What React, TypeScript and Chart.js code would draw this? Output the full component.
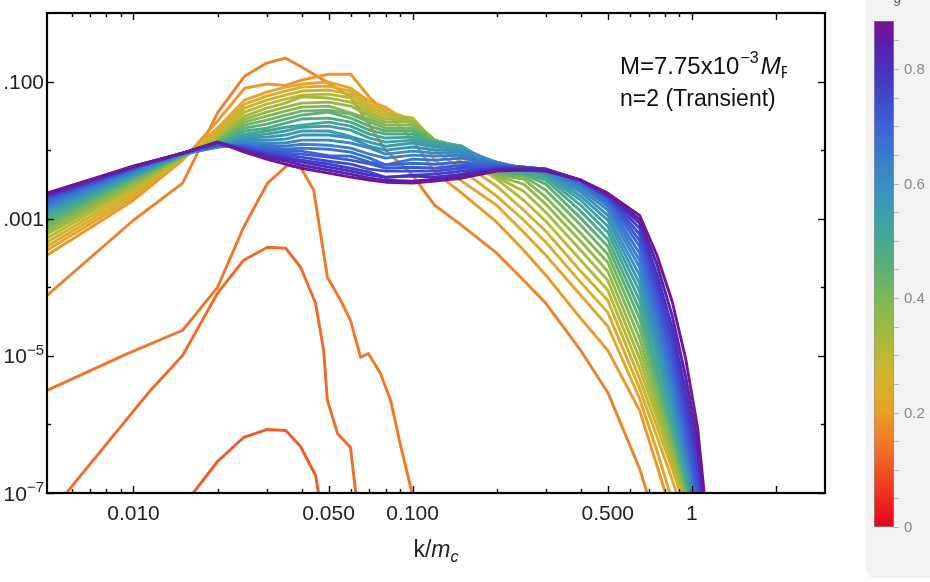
import React, { useEffect, useRef } from "react";
import { Chart, registerables } from "chart.js";

Chart.register(...registerables);

// ---------------- data ----------------
const kGrid = [0.0049, 0.01, 0.015, 0.02, 0.025, 0.03, 0.035, 0.04, 0.05, 0.06, 0.07, 0.08, 0.1, 0.12, 0.15, 0.2, 0.25, 0.3, 0.4, 0.5, 0.65, 0.75, 0.85, 0.95, 1.05, 1.15];

// early (transient) spectra
const early1N = 0.11;
const early1K = [0.0156, 0.02, 0.0248, 0.0302, 0.0351, 0.0397, 0.0449, 0.0468];
const early1Y = [7.8e-8, 2.88e-7, 6.45e-7, 8.45e-7, 8.17e-7, 4.77e-7, 1.8e-7, 6.6e-8];

const early2N = 0.13;
const early2K = [0.00547, 0.0115, 0.015, 0.02, 0.0248, 0.0302, 0.0351, 0.0397, 0.0449, 0.048, 0.0495, 0.0538, 0.0599, 0.0624, 0.0635];
const early2Y = [7.8e-8, 3.13e-6, 1.01e-5, 8.2e-5, 2.48e-4, 3.83e-4, 3.71e-4, 1.96e-4, 5.84e-5, 1.2e-5, 2.24e-6, 7.39e-7, 4.61e-7, 1.09e-7, 6.6e-8];

const early3N = 0.145;
const early3K = [0.0049, 0.00952, 0.015, 0.02, 0.0248, 0.0302, 0.0356, 0.0397, 0.0442, 0.0495, 0.0552, 0.0599, 0.0651, 0.0694, 0.0767, 0.0834, 0.0902, 0.0984, 0.1];
const early3Y = [3.13e-6, 1.08e-5, 2.36e-5, 9.95e-5, 7.5e-4, 3.3e-3, 6.03e-3, 5.64e-3, 2.61e-3, 1.4e-4, 6.46e-5, 3.3e-5, 9.5e-6, 1.08e-5, 5.55e-6, 2.24e-6, 5.28e-7, 1.2e-7, 7.8e-8];

// later spectra on kGrid (n value of each in bundleN)
const bundleN = [0.16, 0.19, 0.215, 0.24, 0.27, 0.3, 0.33, 0.36, 0.39, 0.42, 0.45, 0.48, 0.51, 0.54, 0.565, 0.59, 0.615, 0.64, 0.665, 0.69, 0.715, 0.74, 0.77, 0.8, 0.835, 0.875];

const s00 = [7.6e-5, 9.5e-4, 3.3e-3, 0.035, 0.12, 0.186, 0.22, 0.163, 0.095, 0.059, 0.0232, 0.01, 4.3e-3, 1.57e-3, 8.0e-4, 3.14e-4, 1.26e-4, 5.84e-5, 1.2e-5, 2.93e-6, 2.28e-7, 3.35e-8];
const s01 = [2.93e-4, 1.86e-3, 7.14e-3, 0.0265, 0.08, 0.092, 0.088, 0.105, 0.128, 0.128, 0.059, 0.0359, 0.014, 4.78e-3, 2.36e-3, 8.9e-4, 3.47e-4, 1.5e-4, 3.52e-5, 1.2e-5, 1.6e-6, 2.52e-7, 4.7e-8];
const s02 = [3.47e-4, 2.06e-3, 7.39e-3, 0.0209, 0.0537, 0.0703, 0.0831, 0.092, 0.0984, 0.08, 0.0519, 0.0424, 0.0232, 7.14e-3, 3.53e-3, 1.57e-3, 6.35e-4, 2.93e-4, 7.64e-5, 2.7e-5, 2.39e-6, 4.17e-7, 7.8e-8];
const s03 = [3.96e-4, 2.28e-3, 7.64e-3, 0.019, 0.0469, 0.0614, 0.0727, 0.0831, 0.086, 0.0727, 0.0469, 0.0384, 0.0274, 0.01, 5.11e-3, 2.13e-3, 9.51e-4, 4.53e-4, 1.18e-4, 4.31e-5, 3.35e-6, 6.67e-7, 1.57e-7, 4.1e-8];
const s04 = [4.53e-4, 2.52e-3, 7.64e-3, 0.0171, 0.041, 0.0537, 0.0635, 0.0727, 0.0752, 0.0657, 0.0424, 0.0347, 0.0293, 0.0118, 6.68e-3, 2.98e-3, 1.33e-3, 6.57e-4, 1.71e-4, 6.46e-5, 4.69e-6, 9.3e-7, 2.28e-7, 6.1e-8];
const s05 = [5.19e-4, 2.79e-3, 7.9e-3, 0.016, 0.0359, 0.0469, 0.0556, 0.0635, 0.0657, 0.0575, 0.0384, 0.0314, 0.0293, 0.0131, 7.9e-3, 3.78e-3, 1.86e-3, 9.2e-4, 2.48e-4, 9.04e-5, 6.56e-6, 1.26e-6, 2.88e-7, 7.3e-8];
const s06 = [5.93e-4, 2.98e-3, 7.9e-3, 0.015, 0.0314, 0.041, 0.0485, 0.06, 0.0575, 0.0502, 0.0347, 0.0284, 0.0274, 0.014, 9.04e-3, 4.04e-3, 2.52e-3, 1.24e-3, 3.47e-4, 1.26e-4, 9.2e-6, 1.6e-6, 3.52e-7, 8.6e-8, 2.5e-8];
const s07 = [6.57e-4, 3.19e-3, 8.17e-3, 0.014, 0.0284, 0.0359, 0.0424, 0.0485, 0.0502, 0.0439, 0.0314, 0.0256, 0.0256, 0.014, 0.01, 4.17e-3, 3.19e-3, 1.63e-3, 4.69e-4, 1.71e-4, 1.28e-5, 2.09e-6, 4.32e-7, 9.9e-8, 2.75e-8];
const s08 = [7.27e-4, 3.41e-3, 8.17e-3, 0.0135, 0.0256, 0.0314, 0.0371, 0.0424, 0.0439, 0.035, 0.0284, 0.0232, 0.0232, 0.014, 0.0107, 4.32e-3, 3.78e-3, 2.06e-3, 6.14e-4, 2.32e-4, 1.8e-5, 2.74e-6, 5.1e-7, 1.09e-7, 2.84e-8];
const s09 = [8.04e-4, 3.65e-3, 8.17e-3, 0.0131, 0.0232, 0.0274, 0.0324, 0.0371, 0.0384, 0.0336, 0.0256, 0.0209, 0.0209, 0.014, 0.0111, 4.47e-3, 4.17e-3, 2.61e-3, 8.04e-4, 3.03e-4, 2.52e-5, 3.59e-6, 6.24e-7, 1.24e-7, 3.14e-8];
const s10 = [8.9e-4, 3.9e-3, 8.45e-3, 0.0127, 0.0209, 0.024, 0.0284, 0.0324, 0.036, 0.0293, 0.0224, 0.019, 0.019, 0.0135, 0.0114, 4.78e-3, 4.47e-3, 3.19e-3, 1.02e-3, 3.96e-4, 3.52e-5, 4.54e-6, 7.64e-7, 1.42e-7, 3.35e-8];
const s11 = [9.8e-4, 4.04e-3, 8.45e-3, 0.0122, 0.019, 0.0209, 0.0248, 0.0284, 0.0293, 0.0256, 0.0196, 0.0171, 0.0171, 0.0131, 0.0114, 5.11e-3, 4.62e-3, 3.65e-3, 1.29e-3, 5.02e-4, 4.77e-5, 5.74e-6, 9.0e-7, 1.63e-7, 3.71e-8];
const s12 = [1.09e-3, 4.17e-3, 8.45e-3, 0.0118, 0.0171, 0.019, 0.0216, 0.0232, 0.0256, 0.0224, 0.0171, 0.015, 0.0155, 0.0127, 0.0114, 5.64e-3, 4.78e-3, 4.04e-3, 1.57e-3, 6.35e-4, 6.46e-5, 7.5e-6, 1.1e-6, 1.86e-7, 4.1e-8];
const s13 = [1.2e-3, 4.32e-3, 8.74e-3, 0.0118, 0.016, 0.0171, 0.019, 0.0216, 0.0224, 0.0196, 0.015, 0.0131, 0.014, 0.0118, 0.0111, 6.03e-3, 4.94e-3, 4.32e-3, 1.86e-3, 7.77e-4, 8.74e-5, 1.05e-5, 1.5e-6, 2.2e-7, 4.25e-8];
const s14 = [1.29e-3, 4.47e-3, 8.74e-3, 0.0114, 0.015, 0.0155, 0.0166, 0.019, 0.019, 0.0158, 0.0131, 0.0114, 0.0127, 0.0111, 0.0107, 6.45e-3, 5.11e-3, 4.62e-3, 2.13e-3, 9.51e-4, 1.14e-4, 1.37e-5, 1.89e-6, 2.6e-7, 4.7e-8];
const s15 = [1.37e-3, 4.62e-3, 8.74e-3, 0.0114, 0.014, 0.014, 0.0145, 0.0166, 0.0166, 0.015, 0.0114, 0.01, 0.0111, 0.01, 0.01, 6.68e-3, 5.28e-3, 4.78e-3, 2.44e-3, 1.12e-3, 1.5e-4, 1.8e-5, 2.39e-6, 3.08e-7, 5.2e-8];
const s16 = [1.47e-3, 4.78e-3, 8.74e-3, 0.0111, 0.0131, 0.0127, 0.0127, 0.014, 0.014, 0.0127, 0.0108, 8.74e-3, 9.67e-3, 9.04e-3, 9.35e-3, 6.68e-3, 5.45e-3, 4.94e-3, 2.7e-3, 1.33e-3, 1.96e-4, 2.36e-5, 3.03e-6, 3.77e-7, 5.94e-8];
const s17 = [1.57e-3, 4.94e-3, 8.74e-3, 0.0111, 0.0122, 0.0118, 0.0114, 0.0122, 0.0118, 0.0107, 8.74e-3, 7.64e-3, 8.45e-3, 8.17e-3, 8.45e-3, 6.45e-3, 5.45e-3, 5.11e-3, 2.98e-3, 1.52e-3, 2.48e-4, 3.09e-5, 3.97e-6, 4.61e-7, 6.8e-8];
const s18 = [1.68e-3, 5.11e-3, 9.04e-3, 0.0114, 0.0118, 0.0111, 0.0103, 0.0107, 0.0103, 9.35e-3, 7.64e-3, 6.1e-3, 7.39e-3, 7.14e-3, 7.64e-3, 6.24e-3, 5.64e-3, 5.28e-3, 3.19e-3, 1.68e-3, 3.14e-4, 3.9e-5, 5.19e-6, 5.84e-7, 7.78e-8];
const s19 = [1.8e-3, 5.28e-3, 9.04e-3, 0.0118, 0.0114, 0.0103, 9.67e-3, 9.67e-3, 8.3e-3, 8.17e-3, 6.68e-3, 6.03e-3, 6.45e-3, 6.24e-3, 6.68e-3, 6.03e-3, 5.64e-3, 5.28e-3, 3.41e-3, 1.86e-3, 3.96e-4, 5.28e-5, 7.02e-6, 7.64e-7, 9.2e-8, 1.03e-8];
const s20 = [1.93e-3, 5.45e-3, 9.04e-3, 0.0122, 0.0111, 9.67e-3, 9.04e-3, 8.74e-3, 7.9e-3, 7.14e-3, 6.3e-3, 5.45e-3, 5.64e-3, 5.45e-3, 6.03e-3, 5.83e-3, 5.64e-3, 5.28e-3, 3.53e-3, 1.99e-3, 4.85e-4, 6.9e-5, 9.5e-6, 1.03e-6, 1.16e-7, 1.2e-8];
const s21 = [1.99e-3, 5.45e-3, 9.04e-3, 0.0127, 0.0107, 9.04e-3, 8.45e-3, 7.9e-3, 6.9e-3, 6.24e-3, 5.28e-3, 4.94e-3, 4.94e-3, 4.94e-3, 5.45e-3, 5.64e-3, 5.64e-3, 5.28e-3, 3.65e-3, 2.06e-3, 5.93e-4, 9.04e-5, 1.33e-5, 1.45e-6, 1.63e-7, 1.45e-8];
const s22 = [2.13e-3, 5.64e-3, 9.04e-3, 0.0127, 0.0103, 8.74e-3, 7.9e-3, 7.14e-3, 6.24e-3, 5.45e-3, 4.78e-3, 4.0e-3, 4.32e-3, 4.47e-3, 4.94e-3, 5.45e-3, 5.45e-3, 5.28e-3, 3.65e-3, 2.13e-3, 7.27e-4, 1.18e-4, 1.86e-5, 2.09e-6, 2.43e-7, 1.7e-8];
const s23 = [2.2e-3, 5.64e-3, 9.04e-3, 0.0131, 0.01, 8.45e-3, 7.39e-3, 6.68e-3, 5.64e-3, 4.94e-3, 4.32e-3, 4.04e-3, 4.2e-3, 4.04e-3, 4.47e-3, 5.28e-3, 5.45e-3, 5.11e-3, 3.65e-3, 2.2e-3, 8.6e-4, 1.55e-4, 2.6e-5, 3.13e-6, 3.64e-7, 2.03e-8];
const s24 = [2.28e-3, 5.83e-3, 9.04e-3, 0.0131, 9.67e-3, 7.9e-3, 6.9e-3, 6.03e-3, 5.11e-3, 4.47e-3, 3.9e-3, 3.65e-3, 3.53e-3, 3.78e-3, 4.17e-3, 5.11e-3, 5.28e-3, 5.11e-3, 3.65e-3, 2.28e-3, 9.8e-4, 2.17e-4, 3.9e-5, 5.02e-6, 5.65e-7, 2.03e-8];
const s25 = [2.36e-3, 5.83e-3, 9.04e-3, 0.0131, 9.35e-3, 7.39e-3, 6.24e-3, 5.45e-3, 4.62e-3, 4.04e-3, 3.65e-3, 3.41e-3, 3.3e-3, 3.53e-3, 3.9e-3, 4.94e-3, 5.11e-3, 4.94e-3, 3.65e-3, 2.36e-3, 1.12e-3, 2.93e-4, 6.25e-5, 9.2e-6, 8.7e-7, 2.17e-8];

const bundleSeries = [s00, s01, s02, s03, s04, s05, s06, s07, s08, s09, s10, s11, s12, s13, s14, s15, s16, s17, s18, s19, s20, s21, s22, s23, s24, s25];

// axis ticks
const xTickValues = [0.01, 0.05, 0.1, 0.5, 1];
const xTickLabels = ["0.010", "0.050", "0.100", "0.500", "1"];
const xMinorTicks = [0.006, 0.007, 0.008, 0.009, 0.02, 0.03, 0.04, 0.06, 0.07, 0.08, 0.09, 0.2, 0.3, 0.4, 0.6, 0.7, 0.8, 0.9];
const xExtraMajorTicks = [2];
const yTickValues = [0.1, 1e-3, 1e-5, 1e-7];
const yTickBase = [".100", ".001", "10", "10"];
const yTickExp = ["", "", "\u22125", "\u22127"];
const yMinorTicks = [1e-2, 1e-4, 1e-6];
const colorbarTickValues = [0, 0.2, 0.4, 0.6, 0.8];
const colorbarTickLabels = ["0", "0.2", "0.4", "0.6", "0.8"];
const colorbarMax = 0.884;

// ---------------- styles ----------------
const FONT = '"Liberation Sans", Arial, Helvetica, sans-serif';
const cmapStops: [number, number[]][] = [
  [0.0, [232, 0, 28]],
  [0.1, [240, 84, 36]],
  [0.15, [240, 122, 42]],
  [0.2, [232, 160, 42]],
  [0.25, [214, 176, 44]],
  [0.3, [186, 184, 52]],
  [0.35, [156, 184, 68]],
  [0.4, [124, 184, 88]],
  [0.45, [92, 176, 116]],
  [0.5, [70, 168, 146]],
  [0.55, [60, 158, 170]],
  [0.6, [58, 142, 194]],
  [0.65, [58, 122, 206]],
  [0.7, [60, 98, 212]],
  [0.75, [64, 72, 206]],
  [0.8, [74, 48, 190]],
  [0.85, [92, 28, 168]],
  [0.884, [124, 20, 140]],
];

function nColor(n: number): string {
  const s = cmapStops;
  const f = (c: number[]) => `rgb(${Math.round(c[0])},${Math.round(c[1])},${Math.round(c[2])})`;
  if (n <= s[0][0]) return f(s[0][1]);
  for (let i = 1; i < s.length; i++) {
    if (n <= s[i][0]) {
      const t = (n - s[i - 1][0]) / (s[i][0] - s[i - 1][0]);
      const a = s[i - 1][1], b = s[i][1];
      return f([a[0] + (b[0] - a[0]) * t, a[1] + (b[1] - a[1]) * t, a[2] + (b[2] - a[2]) * t]);
    }
  }
  return f(s[s.length - 1][1]);
}

const decorPlugin = {
  id: "decor",
  afterDatasetsDraw(chart: any) {
    const { ctx, chartArea: a, scales } = chart;
    const xs = scales.x;
    const ys = scales.y;
    ctx.save();

    const seg = (x1: number, y1: number, x2: number, y2: number) => {
      ctx.beginPath();
      ctx.moveTo(x1, y1);
      ctx.lineTo(x2, y2);
      ctx.stroke();
    };

    // ticks (inward, all four sides)
    ctx.strokeStyle = "#000";
    ctx.lineWidth = 1.4;
    const xt = (v: number, len: number) => {
      const p = Math.round(xs.getPixelForValue(v)) + 0.5;
      seg(p, a.bottom, p, a.bottom - len);
      seg(p, a.top, p, a.top + len);
    };
    const yt = (v: number, len: number) => {
      const p = Math.round(ys.getPixelForValue(v)) + 0.5;
      seg(a.left, p, a.left + len, p);
      seg(a.right, p, a.right - len, p);
    };
    xMinorTicks.forEach((v) => xt(v, 4));
    xTickValues.forEach((v) => xt(v, 7));
    xExtraMajorTicks.forEach((v) => xt(v, 7));
    yMinorTicks.forEach((v) => yt(v, 4));
    yTickValues.forEach((v) => yt(v, 7));

    // frame
    ctx.lineWidth = 2.2;
    ctx.strokeRect(a.left, a.top, a.right - a.left, a.bottom - a.top);

    // x tick labels
    ctx.fillStyle = "#222";
    ctx.font = `21px ${FONT}`;
    ctx.textAlign = "center";
    ctx.textBaseline = "alphabetic";
    xTickValues.forEach((v, i) => {
      ctx.fillText(xTickLabels[i], xs.getPixelForValue(v), 520);
    });

    // y tick labels (right aligned with superscript exponent)
    yTickValues.forEach((v, i) => {
      const py = ys.getPixelForValue(v);
      const right = 44;
      ctx.textAlign = "left";
      ctx.font = `15px ${FONT}`;
      const ew = yTickExp[i] ? ctx.measureText(yTickExp[i]).width : 0;
      ctx.font = `21px ${FONT}`;
      const bw = ctx.measureText(yTickBase[i]).width;
      const x0 = right - ew - bw;
      ctx.fillText(yTickBase[i], x0, py + 7.5);
      if (yTickExp[i]) {
        ctx.font = `15px ${FONT}`;
        ctx.fillText(yTickExp[i], x0 + bw, py - 1);
      }
    });

    // axis title k/m_c
    {
      const cx = (a.left + a.right) / 2;
      const base = 557;
      ctx.textAlign = "left";
      ctx.font = `23px ${FONT}`;
      const w1 = ctx.measureText("k/").width;
      ctx.font = `italic 23px ${FONT}`;
      const w2 = ctx.measureText("m").width;
      ctx.font = `italic 16px ${FONT}`;
      const w3 = ctx.measureText("c").width;
      let x = cx - (w1 + w2 + w3) / 2;
      ctx.font = `23px ${FONT}`;
      ctx.fillText("k/", x, base);
      x += w1;
      ctx.font = `italic 23px ${FONT}`;
      ctx.fillText("m", x, base);
      x += w2;
      ctx.font = `italic 16px ${FONT}`;
      ctx.fillText("c", x, base + 5);
    }

    // annotation
    ctx.fillStyle = "#111";
    ctx.save();
    ctx.beginPath();
    ctx.rect(0, 0, 787, 200);
    ctx.clip();
    {
      let x = 620;
      const b = 74;
      ctx.font = `24px ${FONT}`;
      ctx.fillText("M=7.75x10", x, b);
      x += ctx.measureText("M=7.75x10").width + 1;
      ctx.font = `16px ${FONT}`;
      ctx.fillText("\u22123", x, b - 11);
      x += ctx.measureText("\u22123").width + 2;
      ctx.font = `italic 24px ${FONT}`;
      ctx.fillText("M", x, b);
      x += ctx.measureText("M").width;
      ctx.font = `16px ${FONT}`;
      ctx.fillText("Pl", x, b + 4);
    }
    ctx.restore();
    ctx.font = `23px ${FONT}`;
    ctx.fillText("n=2 (Transient)", 620, 106);

    // colorbar panel
    ctx.fillStyle = "#f2f2f2";
    ctx.beginPath();
    if (ctx.roundRect) ctx.roundRect(866, -20, 90, 598, 8);
    else ctx.rect(866, -20, 90, 598);
    ctx.fill();

    const barTop = 21, barBot = 527, barL = 874, barR = 894;
    const grad = ctx.createLinearGradient(0, barBot, 0, barTop);
    cmapStops.forEach(([n]) => grad.addColorStop(Math.min(1, n / colorbarMax), nColor(n)));
    ctx.fillStyle = grad;
    ctx.fillRect(barL, barTop, barR - barL, barBot - barTop);
    ctx.strokeStyle = "rgba(150,150,150,0.6)";
    ctx.lineWidth = 1;
    ctx.strokeRect(barL + 0.5, barTop + 0.5, barR - barL - 1, barBot - barTop - 1);

    const nToY = (n: number) => barBot - (n / colorbarMax) * (barBot - barTop);
    ctx.strokeStyle = "#b5b5b5";
    for (let i = 0; i <= 17; i++) {
      const py = Math.round(nToY(i * 0.05)) + 0.5;
      seg(barR, py, barR + 5, py);
    }
    ctx.fillStyle = "#8a8a8a";
    ctx.font = `15px ${FONT}`;
    ctx.textAlign = "left";
    ctx.textBaseline = "middle";
    colorbarTickValues.forEach((v, i) => {
      ctx.fillText(colorbarTickLabels[i], 904, nToY(v) + 1);
    });

    // colorbar header (cut off at top)
    ctx.fillStyle = "#555";
    ctx.textBaseline = "alphabetic";
    ctx.font = `italic 18px ${FONT}`;
    ctx.fillText("n", 884, -1);
    ctx.font = `italic 13px ${FONT}`;
    ctx.fillText("g", 894, 3);

    ctx.restore();
  },
};

export default function App() {
  const ref = useRef<HTMLCanvasElement>(null);

  useEffect(() => {
    const canvas = ref.current;
    if (!canvas) return;
    const datasets: any[] = [];
    const addCurve = (ks: number[], ys: number[], n: number) => {
      datasets.push({
        data: ys.map((v, i) => ({ x: ks[i], y: v })),
        borderColor: nColor(n),
        borderWidth: 2.9,
        pointRadius: 0,
        pointHoverRadius: 0,
        tension: 0,
        fill: false,
        borderJoinStyle: "round",
        borderCapStyle: "round",
        order: -n,
      });
    };
    addCurve(early1K, early1Y, early1N);
    addCurve(early2K, early2Y, early2N);
    addCurve(early3K, early3Y, early3N);
    bundleSeries.forEach((s, j) => addCurve(kGrid, s, bundleN[j]));

    const chart = new Chart(canvas, {
      type: "line",
      data: { datasets },
      options: {
        animation: false,
        responsive: false,
        devicePixelRatio: 1,
        events: [],
        layout: { padding: { left: 47, top: 13, right: 105, bottom: 89 } },
        plugins: { legend: { display: false }, tooltip: { enabled: false } },
        scales: {
          x: { type: "logarithmic", min: 0.0049, max: 3.0, display: false },
          y: { type: "logarithmic", min: 1e-7, max: 1, display: false },
        },
      },
      plugins: [decorPlugin],
    } as any);
    return () => chart.destroy();
  }, []);

  return (
    <div style={{ position: "fixed", left: 0, top: 0, width: 930, height: 582, background: "#fff" }}>
      <canvas ref={ref} width={930} height={582} style={{ display: "block" }} />
    </div>
  );
}
